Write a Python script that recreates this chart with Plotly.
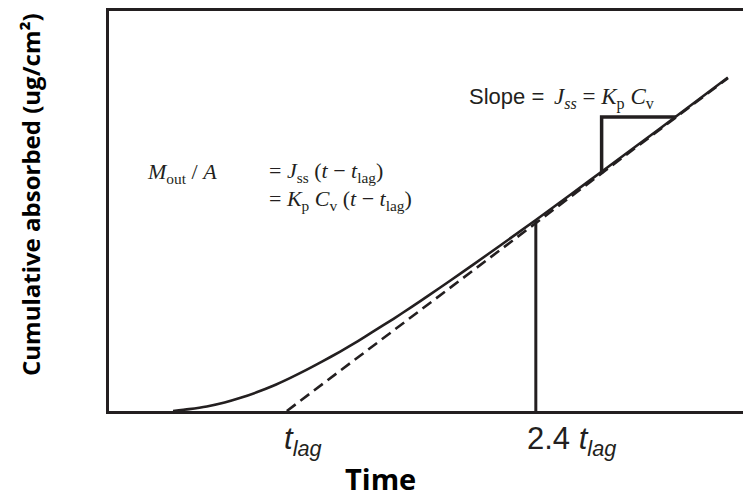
import plotly.graph_objects as go

# ---- data ----
time_curve = [0.36, 0.45, 0.55, 0.65, 0.74, 0.83, 0.92, 1.02, 1.11, 1.20, 1.30, 1.40, 1.48,
              1.60, 1.70, 1.80, 1.92, 2.05, 2.20, 2.40, 2.60, 2.80, 3.10, 3.48]
absorbed_curve = [0.000, 0.014, 0.034, 0.063, 0.098, 0.139, 0.186, 0.247, 0.306, 0.369, 0.443,
                  0.521, 0.587, 0.687, 0.774, 0.863, 0.972, 1.092, 1.233, 1.423, 1.617, 1.812,
                  2.107, 2.484]

time_asymptote = [1.0, 3.48]
absorbed_asymptote = [0.0, 2.48]

time_marker = [2.4, 2.4]
absorbed_marker = [0.0, 1.42]

time_triangle = [2.77, 2.77, 3.19]
absorbed_triangle = [1.77, 2.19, 2.19]

tick_positions = [0.973, 2.339]
tick_labels = ["<i>t</i><sub><i>lag</i></sub>", "2.4 <i>t</i><sub><i>lag</i></sub>"]

x_title = "Time"
y_title = "Cumulative absorbed (ug/cm²)"

INK = "#231f20"

fig = go.Figure()
fig.add_trace(go.Scatter(x=time_asymptote, y=absorbed_asymptote, mode="lines",
                         line=dict(color=INK, width=2.6, dash="11px,6px"), hoverinfo="skip"))
fig.add_trace(go.Scatter(x=time_curve, y=absorbed_curve, mode="lines", line_shape="spline",
                         line=dict(color=INK, width=2.6, smoothing=0.6), hoverinfo="skip"))
fig.add_trace(go.Scatter(x=time_marker, y=absorbed_marker, mode="lines",
                         line=dict(color=INK, width=3), hoverinfo="skip"))
fig.add_trace(go.Scatter(x=time_triangle, y=absorbed_triangle, mode="lines",
                         line=dict(color=INK, width=3.5), hoverinfo="skip"))

serif = dict(family="Liberation Serif", size=22, color=INK)

ann = []
ann.append(dict(x=0.20, y=1.77, xref="x", yref="y", xanchor="left", yanchor="middle",
                text="<i>M</i><sub>out</sub> / <i>A</i>", font=serif, showarrow=False))
ann.append(dict(x=0.89, y=1.78, xref="x", yref="y", xanchor="left", yanchor="middle",
                text="= <i>J</i><sub>ss</sub> (<i>t</i> − <i>t</i><sub>lag</sub>)", font=serif, showarrow=False))
ann.append(dict(x=0.89, y=1.57, xref="x", yref="y", xanchor="left", yanchor="middle",
                text="= <i>K</i><sub>p</sub> <i>C</i><sub>v</sub> (<i>t</i> − <i>t</i><sub>lag</sub>)", font=serif, showarrow=False))
ann.append(dict(x=2.013, y=2.34, xref="x", yref="y", xanchor="left", yanchor="middle",
                text="Slope =", font=dict(family="Liberation Sans", size=22, color=INK), showarrow=False))
ann.append(dict(x=2.49, y=2.33, xref="x", yref="y", xanchor="left", yanchor="middle",
                text="<i>J</i><sub><i>ss</i></sub> = <i>K</i><sub>p</sub> <i>C</i><sub>v</sub>",
                font=dict(family="Liberation Serif", size=23, color=INK), showarrow=False))
for xp, lab in zip(tick_positions, tick_labels):
    ann.append(dict(x=xp, y=-0.02, xref="x", yref="paper", xanchor="left", yanchor="top",
                    text=lab, font=dict(family="Liberation Sans", size=31, color=INK), showarrow=False))
ann.append(dict(x=1.524, y=-0.168, xref="x", yref="paper", xanchor="center", yanchor="middle",
                text=x_title, font=dict(family="Open Sans", size=29, color="#000000", weight="bold"),
                showarrow=False))
ann.append(dict(x=-0.1246, y=0.54, xref="paper", yref="paper", xanchor="center", yanchor="middle",
                textangle=-90, text=y_title,
                font=dict(family="Open Sans", size=24, color="#000000", weight="bold"), showarrow=False))

fig.update_layout(
    width=743, height=492,
    margin=dict(l=109, r=0, t=11, b=81),
    paper_bgcolor="white", plot_bgcolor="white",
    showlegend=False,
    annotations=ann,
    xaxis=dict(range=[0, 3.565], showgrid=False, zeroline=False, showticklabels=False,
               showline=True, linewidth=3, linecolor=INK, mirror=True, ticks=""),
    yaxis=dict(range=[0, 2.98], showgrid=False, zeroline=False, showticklabels=False,
               showline=True, linewidth=3, linecolor=INK, mirror=False, ticks=""),
)

fig.write_html("out.html", config={"displayModeBar": False},
               post_script="document.body.style.margin='0';")
